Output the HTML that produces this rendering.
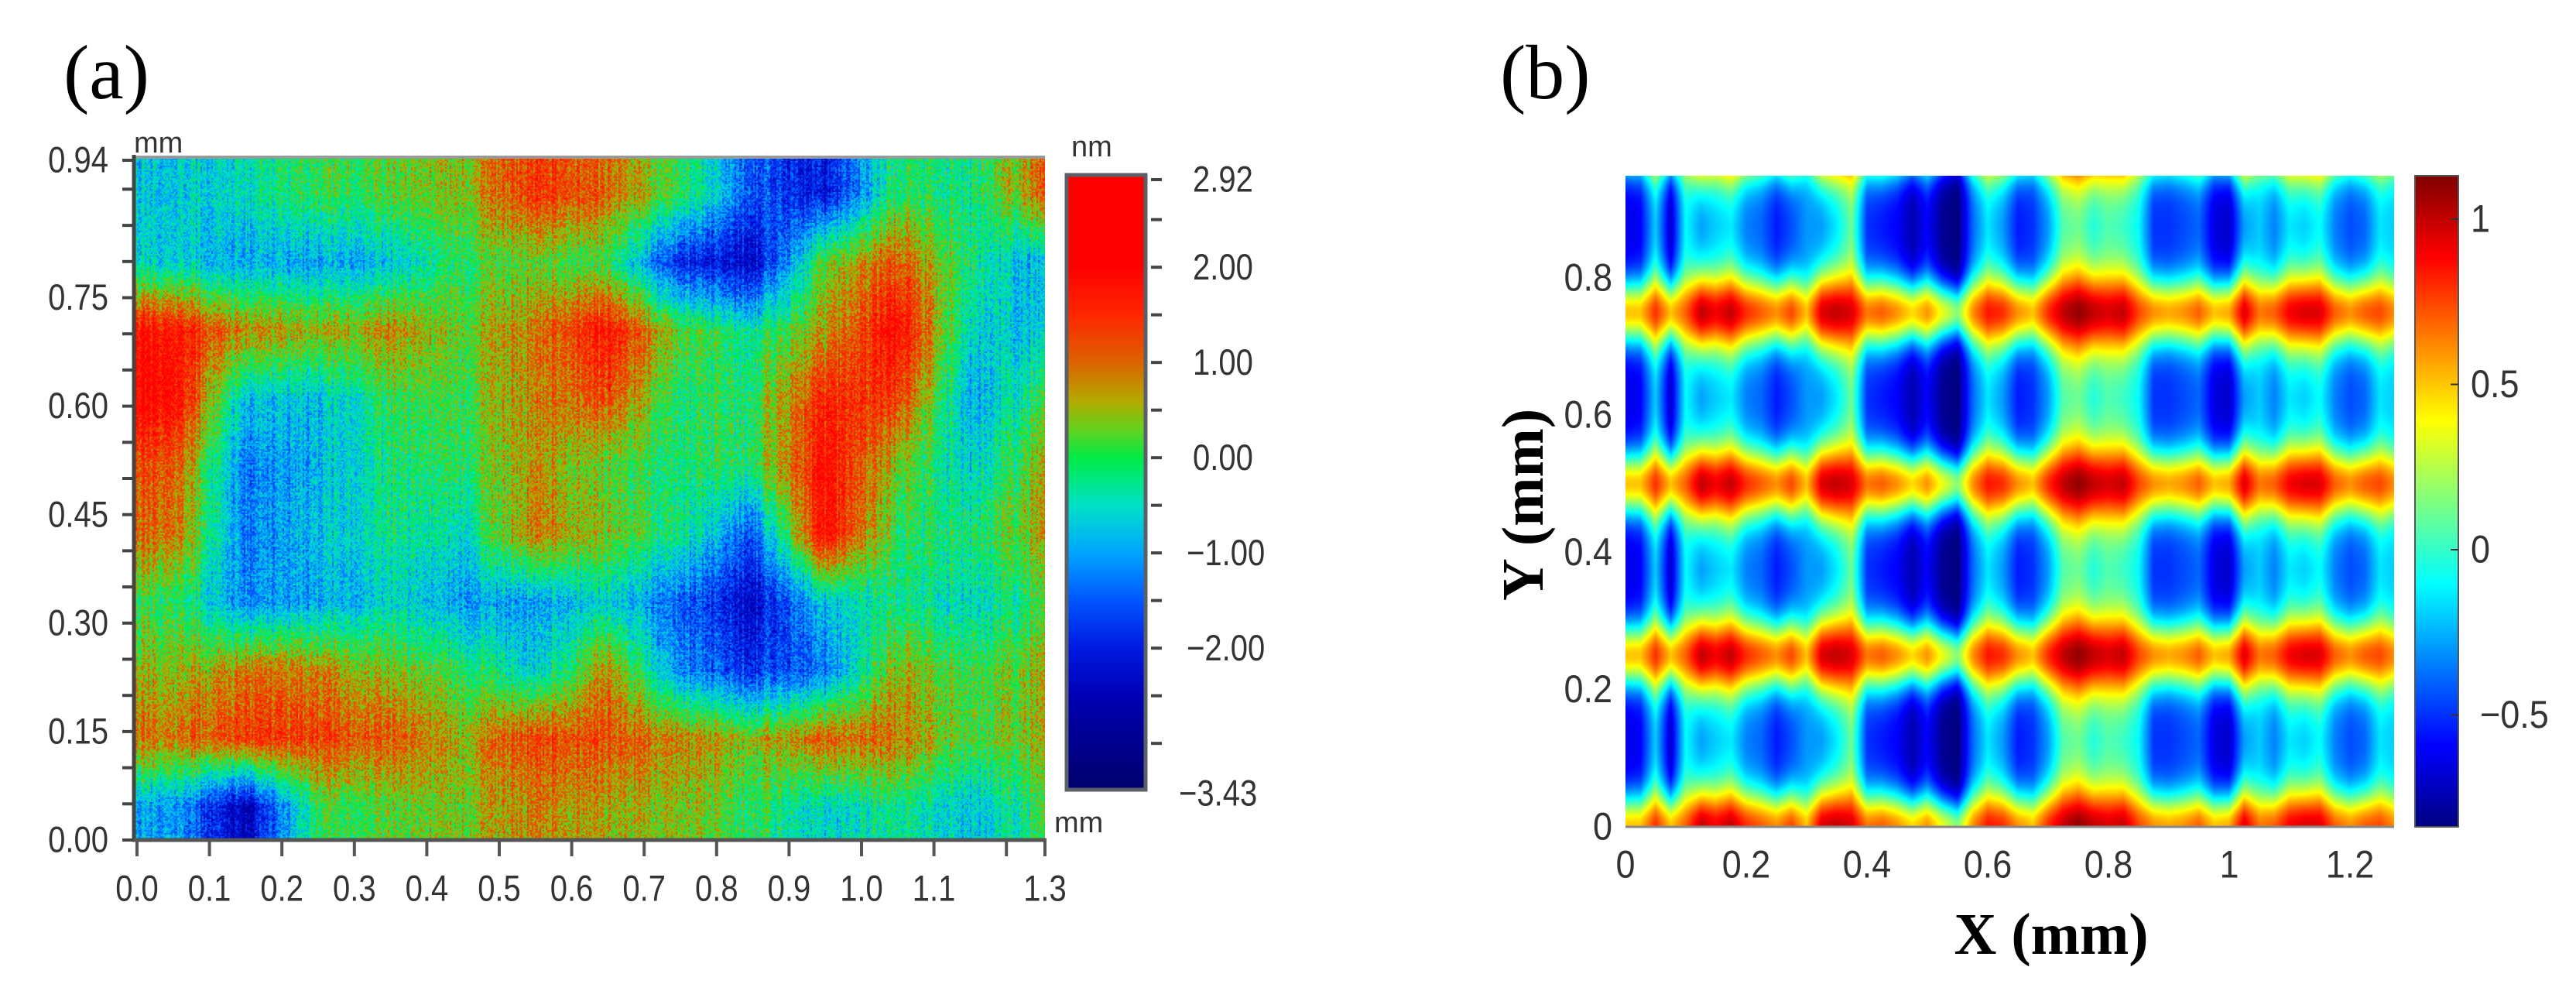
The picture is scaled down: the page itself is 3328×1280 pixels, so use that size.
<!DOCTYPE html>
<html><head><meta charset="utf-8">
<style>
html,body{margin:0;padding:0;background:#fff;}
#root{position:relative;width:3328px;height:1280px;overflow:hidden;background:#fff;}
canvas{position:absolute;display:block;}
svg{position:absolute;left:0;top:0;}
</style></head>
<body>
<div id="root">
<canvas id="plotA" style="left:173px;top:202px" width="1177" height="881"></canvas>
<canvas id="cbarA" style="left:1379px;top:227px" width="100" height="792"></canvas>
<canvas id="plotB" style="left:2100px;top:227px" width="993" height="841"></canvas>
<canvas id="cbarB" style="left:3120px;top:227px" width="56" height="841"></canvas>
<svg id="ov" width="3328" height="1280"></svg>
</div>
<script>
// ===== Panel (a) data: coarse height grid (nm), rows top (y=0.94) -> bottom (y=0), 13 columns x 0..1.3 =====
const aRow0=[-0.7,-0.5,0,0.2,0.5,1.5,1,0,-1.5,-2.2,0,-0.3,1];
const aRow1=[-0.6,-1.0,-1,-0.8,0,0.3,0,-2,-2.3,0.2,1.2,-0.2,-1];
const aRow2=[1.8,0.8,0.5,0.8,0.3,1,1.8,0.2,-0.3,0.6,2,-0.6,-0.8];
const aRow3=[2,-0.8,-0.8,0,0.1,0.9,1.2,-0.2,0,1.5,1.4,-1,0];
const aRow4=[1.2,-1.3,-0.9,-0.2,0,0.8,0.2,-0.2,0,1.8,0.4,-0.7,0.5];
const aRow5=[1,-1.3,-0.8,-0.3,-0.5,1,0.4,-0.3,-1.5,1.8,0,-0.2,0.6];
const aRow6=[0,-1.2,-1,-0.6,-1,-1,-0.6,-1.5,-2.3,-0.8,-0.2,-0.6,0];
const aRow7=[0.5,0.9,0.8,0.4,0,-0.6,0.8,-1.2,-1.8,-1.4,0.6,0,0.5];
const aRow8=[1,1.4,1.3,1.1,0.6,1.4,1.2,0.8,0.5,1,1,0.1,0.5];
const aRow9=[-1,-2.5,0,0.2,0.4,0.9,0.6,0.4,0,-0.7,-0.2,-0.8,0];
const aXTicks=[0.0,0.1,0.2,0.3,0.4,0.5,0.6,0.7,0.8,0.9,1.0,1.1,1.2];
const aXLabels=["0.0","0.1","0.2","0.3","0.4","0.5","0.6","0.7","0.8","0.9","1.0","1.1",""];
const aYTicks=[0,0.15,0.30,0.45,0.60,0.75,0.94];
const aYLabels=["0.00","0.15","0.30","0.45","0.60","0.75","0.94"];
const aCbTicks=[2.92,2.00,1.00,0.00,-1.00,-2.00,-3.43];
const aCbLabels=["2.92","2.00","1.00","0.00","\u22121.00","\u22122.00","\u22123.43"];
// ===== Panel (b) data: per-column trough depth and band peak (x step 0.025 mm) =====
const bTrough=[-0.65,-0.6,-0.2,-0.7,-0.1,-0.3,-0.2,-0.15,-0.35,-0.4,-0.55,-0.45,-0.3,-0.3,-0.15,0.1,-0.5,-0.55,-0.6,-0.75,-0.6,-0.8,-0.85,-0.4,-0.15,-0.3,-0.55,-0.5,-0.3,0.05,0.1,-0.05,0.05,0,-0.1,-0.5,-0.5,-0.45,-0.4,-0.65,-0.7,-0.3,-0.2,-0.35,-0.15,-0.2,-0.1,-0.35,-0.45,-0.4,-0.15,-0.2];
const bPeak=[0.5,0.5,0.8,0.5,0.7,1.0,0.9,1.0,0.8,0.7,0.6,0.75,0.5,0.95,1.0,0.95,0.65,0.7,0.6,0.45,0.6,0.35,0.15,0.6,0.85,0.8,0.6,0.5,0.8,1.0,1.1,1.0,0.95,1.0,0.75,0.6,0.55,0.6,0.7,0.5,0.55,0.95,0.65,0.7,0.9,0.95,0.95,0.7,0.6,0.7,0.75,0.6];
const bBands=[0,0.25,0.5,0.75,1.0];
const bXTicks=[0,0.2,0.4,0.6,0.8,1,1.2];
const bXLabels=["0","0.2","0.4","0.6","0.8","1","1.2"];
const bYTicks=[0,0.2,0.4,0.6,0.8];
const bYLabels=["0","0.2","0.4","0.6","0.8"];
const bCbTicks=[1,0.5,0,-0.5];
const bCbLabels=["1","0.5","0","\u22120.5"];

const aGrid=[aRow0,aRow1,aRow2,aRow3,aRow4,aRow5,aRow6,aRow7,aRow8,aRow9];
const aX=v=>177+v*936;
const aY=v=>1085-v*934;
const aCb=v=>232+(2.92-v)*123;
const bX=v=>2100+v*780;
const bY=v=>1068-v*886;
const bCb=v=>283+(1-v)*427;
const bXmax=(3093-2100)/780, bYmax=(1068-227)/886, bZmax=1+(283-227)/427, bZmin=1-(1068-283)/427;

function lerpStops(stops,v){
  if(v<=stops[0][0])return stops[0][1];
  for(let i=1;i<stops.length;i++){
    if(v<=stops[i][0]){const t=(v-stops[i-1][0])/(stops[i][0]-stops[i-1][0]);const a=stops[i-1][1],b=stops[i][1];
      return [a[0]+(b[0]-a[0])*t,a[1]+(b[1]-a[1])*t,a[2]+(b[2]-a[2])*t];}
  }
  return stops[stops.length-1][1];
}
const cmapA=[[-3.43,[0,0,110]],[-2.5,[0,0,180]],[-2,[0,25,225]],[-1.5,[0,85,255]],[-1,[0,165,255]],[-0.5,[0,225,200]],[0,[0,235,70]],[0.3,[100,210,30]],[0.6,[180,170,0]],[1,[220,100,0]],[1.5,[255,40,0]],[2,[255,0,0]],[2.92,[255,0,0]]];
const jet=[[0,[0,0,128]],[0.125,[0,0,255]],[0.375,[0,255,255]],[0.625,[255,255,0]],[0.875,[255,0,0]],[1,[128,0,0]]];
function hash(x,y){let h=(x*374761393+y*668265263)|0;h=(h^(h>>>13))*1274126177|0;h^=h>>>16;return (h>>>0)/4294967296;}

(function(){
  const c=document.getElementById('plotA'),ctx=c.getContext('2d');const W=c.width,H=c.height;
  const img=ctx.createImageData(W,H);const nc=aGrid[0].length,nr=aGrid.length;
  const xmax=(1350-177)/936, xmin=(173-177)/936;
  const streak=[];for(let px=0;px<W;px++)streak.push((hash(px>>1,7)-0.5)*0.6);
  for(let py=0;py<H;py++){
    const yv=(1085-(202+py))/934; let gy=(0.94-yv)/0.94*nr-0.5; gy=Math.max(0,Math.min(nr-1,gy));
    const r0=Math.floor(gy),r1=Math.min(nr-1,r0+1),ty=gy-r0;
    for(let px=0;px<W;px++){
      const xv=xmin+(px/W)*(xmax-xmin); let gx=xv/1.3*nc-0.5; gx=Math.max(0,Math.min(nc-1,gx));
      const c0=Math.floor(gx),c1=Math.min(nc-1,c0+1),tx=gx-c0;
      const v=(aGrid[r0][c0]*(1-tx)+aGrid[r0][c1]*tx)*(1-ty)+(aGrid[r1][c0]*(1-tx)+aGrid[r1][c1]*tx)*ty;
      const n=(hash(px>>1,py>>1)-0.5)*1.0+streak[px];
      const col=lerpStops(cmapA,v+n);const k=(py*W+px)*4;
      img.data[k]=col[0];img.data[k+1]=col[1];img.data[k+2]=col[2];img.data[k+3]=255;
    }
  }
  ctx.putImageData(img,0,0);
  const cb=document.getElementById('cbarA'),cx=cb.getContext('2d');
  for(let py=0;py<cb.height;py++){const v=2.92-(227+py-232)/123;const col=lerpStops(cmapA,v);
    cx.fillStyle='rgb('+col.map(Math.round).join(',')+')';cx.fillRect(0,py,cb.width,1);}
})();
(function(){
  const c=document.getElementById('plotB'),ctx=c.getContext('2d');const W=c.width,H=c.height;
  const img=ctx.createImageData(W,H);const n=bTrough.length;
  for(let px=0;px<W;px++){
    const xv=(px+0.5)/W*bXmax;let g=xv/0.025;g=Math.max(0,Math.min(n-1,g));
    const i0=Math.floor(g),i1=Math.min(n-1,i0+1),t=g-i0;
    const v=bTrough[i0]*(1-t)+bTrough[i1]*t, r=bPeak[i0]*(1-t)+bPeak[i1]*t;
    const w=0.035+0.025*r;
    for(let py=0;py<H;py++){
      const yv=(H-py-0.5)/H*bYmax;let d=1;for(const b of bBands)d=Math.min(d,Math.abs(yv-b));
      const z=v+(r-v)*Math.exp(-(d/w)*(d/w));
      const col=lerpStops(jet,(z-bZmin)/(bZmax-bZmin));const k=(py*W+px)*4;
      img.data[k]=col[0];img.data[k+1]=col[1];img.data[k+2]=col[2];img.data[k+3]=255;
    }
  }
  ctx.putImageData(img,0,0);
  const cb=document.getElementById('cbarB'),cx=cb.getContext('2d');
  for(let py=0;py<cb.height;py++){const z=bZmax-(py/cb.height)*(bZmax-bZmin);const col=lerpStops(jet,(z-bZmin)/(bZmax-bZmin));
    cx.fillStyle='rgb('+col.map(Math.round).join(',')+')';cx.fillRect(0,py,cb.width,1);}
})();

const NS='http://www.w3.org/2000/svg';const ov=document.getElementById('ov');
function mk(tag,attrs,parent){const e=document.createElementNS(NS,tag);for(const k in attrs)e.setAttribute(k,attrs[k]);(parent||ov).appendChild(e);return e;}
function txt(s,x,y,size,anchor,extra){const e=mk('text',Object.assign({x:x,y:y,'font-size':size,'text-anchor':anchor||'start','dominant-baseline':'central','font-family':'"Liberation Sans", Arial, sans-serif',fill:'#333'},extra||{}));e.textContent=s;return e;}

let e;
e=mk('line',{x1:173,y1:203,x2:1350,y2:203,stroke:'#999',"stroke-width":4});

e=mk('line',{x1:173,y1:200,x2:173,y2:1087,stroke:'#444',"stroke-width":5});

e=mk('line',{x1:171,y1:1085,x2:1352,y2:1085,stroke:'#555',"stroke-width":5});

for(let v=0;v<=0.9001;v+=0.05){e=mk('line',{x1:158,y1:aY(v),x2:173,y2:aY(v),stroke:'#444','stroke-width':4});
  }
e=mk('line',{x1:158,y1:aY(0.94),x2:173,y2:aY(0.94),stroke:'#444','stroke-width':4});

aYTicks.forEach((v,i)=>{e=txt(aYLabels[i],140,aY(v),40,'end',{transform:'translate(0,'+(aY(v)*-0.18)+') scale(1,1.18)'});
  });
aXTicks.forEach((v,i)=>{e=mk('line',{x1:aX(v),y1:1085,x2:aX(v),y2:1106,stroke:'#555','stroke-width':4});
  
  e=txt(aXLabels[i],aX(v),1148,40,'middle',{transform:'translate(0,'+(1148*-0.18)+') scale(1,1.18)'});
  });
e=mk('line',{x1:1350,y1:1085,x2:1350,y2:1106,stroke:'#555','stroke-width':4});

e=txt('1.3',1350,1148,40,'middle',{transform:'translate(0,'+(1148*-0.18)+') scale(1,1.18)'});

e=txt('mm',173,185,38,'start');
e=txt('mm',1362,1063,38,'start');
e=txt('nm',1384,190,38,'start');
e=mk('rect',{x:1378,y:226,width:102,height:794,fill:'none',stroke:'#5a6068','stroke-width':5});

for(let v=2.5;v>=-3.0001;v-=0.5){e=mk('line',{x1:1487,y1:aCb(v),x2:1501,y2:aCb(v),stroke:'#444','stroke-width':4});
  }
e=mk('line',{x1:1487,y1:aCb(2.92),x2:1501,y2:aCb(2.92),stroke:'#444','stroke-width':4});

aCbTicks.forEach((v,i)=>{const y=i==aCbTicks.length-1?1025:aCb(v);const x=aCbLabels[i].startsWith('\u2212')?(i==aCbTicks.length-1?1523:1533):1541;
  e=txt(aCbLabels[i],x,y,40,'start',{transform:'translate(0,'+(y*-0.18)+') scale(1,1.18)'});
  });
e=txt('(a)',82,127,100,'start',{'font-family':'"Liberation Serif", serif',fill:'#000','dominant-baseline':'alphabetic'});

e=txt('(b)',1938,127,100,'start',{'font-family':'"Liberation Serif", serif',fill:'#000','dominant-baseline':'alphabetic'});


e=mk('line',{x1:2100,y1:1068,x2:3093,y2:1068,stroke:'#888','stroke-width':3});

bXTicks.forEach((v,i)=>{e=txt(bXLabels[i],bX(v),1117,45,'middle',{transform:'translate(0,'+(1117*-0.12)+') scale(1,1.12)'});
  });
bYTicks.forEach((v,i)=>{e=txt(bYLabels[i],2083,bY(v),45,'end',{transform:'translate(0,'+(bY(v)*-0.12)+') scale(1,1.12)'});
  });
e=mk('rect',{x:3120,y:227,width:56,height:841,fill:'none',stroke:'#555','stroke-width':2});

bCbTicks.forEach((v,i)=>{e=mk('line',{x1:3166,y1:bCb(v),x2:3176,y2:bCb(v),stroke:'#333','stroke-width':2});
  
  e=txt(bCbLabels[i],bCbLabels[i].startsWith('\u2212')?3204:3192,bCb(v),45,'start',{transform:'translate(0,'+(bCb(v)*-0.12)+') scale(1,1.12)'});
  });
e=txt('X (mm)',2650,1207,76,'middle',{'font-family':'"Liberation Serif", serif','font-weight':'bold',fill:'#000'});

e=txt('Y (mm)',1968,652,76,'middle',{'font-family':'"Liberation Serif", serif','font-weight':'bold',fill:'#000',transform:'rotate(-90 1968 652)'});

</script>
</body></html>
